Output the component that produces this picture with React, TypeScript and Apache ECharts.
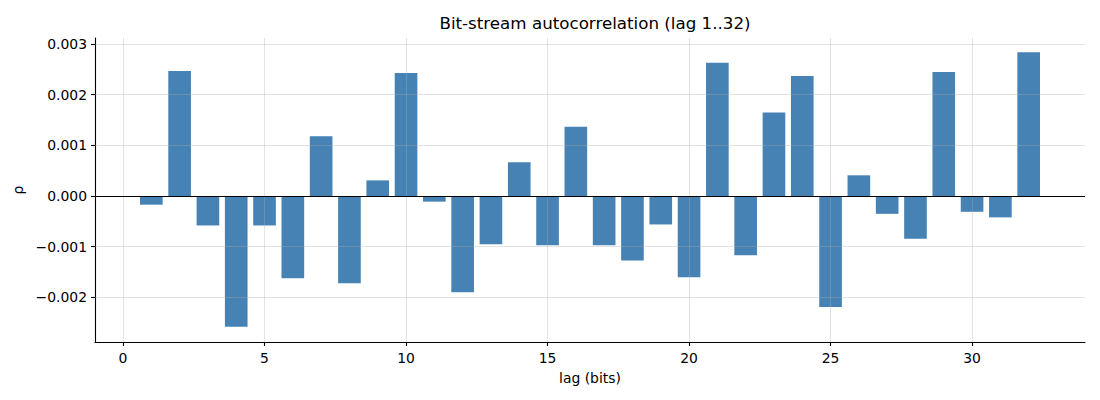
import React, { useEffect, useRef } from "react";
import * as echarts from "echarts";

const lags: number[] = Array.from({ length: 32 }, (_, i) => i + 1);
const rho: number[] = [
  -0.00017, 0.00247, -0.00058, -0.00258, -0.00058, -0.00162, 0.00118, -0.00172,
  0.00031, 0.00243, -0.00011, -0.0019, -0.00095, 0.00067, -0.00097, 0.00137,
  -0.00097, -0.00127, -0.00056, -0.0016, 0.00263, -0.00117, 0.00165, 0.00237,
  -0.00219, 0.00041, -0.00035, -0.00084, 0.00245, -0.00031, -0.00042, 0.00284,
];
const xTicks: number[] = [0, 5, 10, 15, 20, 25, 30];
const yTicks: number[] = [-0.002, -0.001, 0, 0.001, 0.002, 0.003];

const TITLE = "Bit-stream autocorrelation (lag 1..32)";
const X_NAME = "lag (bits)";
const Y_NAME = "ρ";

export default function App() {
  const ref = useRef<HTMLDivElement>(null);
  useEffect(() => {
    document.body.style.margin = "0";
    if (!ref.current) return;
    const chart = echarts.init(ref.current, undefined, { renderer: "svg" });
    const font = "DejaVu Sans";
    const gridLeft = 95;
    const gridRight = 15;
    const plotW = 1100 - gridLeft - gridRight;
    const xMin = -0.99;
    const xMax = 33.99;
    const barW = (plotW / (xMax - xMin)) * 0.8;
    const gridColor = "rgba(176,176,176,0.35)";
    const fmt = (v: number) => {
      const s = Math.abs(v).toFixed(3);
      return v < 0 ? "\u2212" + s : s;
    };
    const gridMark = (key: "xAxis" | "yAxis", vals: number[]) => ({
      type: "line",
      data: [],
      markLine: {
        silent: true,
        symbol: "none",
        precision: 8,
        label: { show: false },
        animation: false,
        lineStyle: { color: gridColor, width: 1, type: "solid" },
        data: vals.map((v) => ({ [key]: v })),
      },
    });
    chart.setOption({
      animation: false,
      title: {
        text: TITLE,
        left: 590,
        top: 9,
        textAlign: "center",
        textStyle: { fontFamily: font, fontSize: 16.7, fontWeight: "normal", color: "#000" },
      },
      grid: { left: gridLeft, right: gridRight, top: 38, bottom: 58, containLabel: false },
      xAxis: {
        type: "value",
        min: xMin,
        max: xMax,
        name: X_NAME,
        nameLocation: "middle",
        nameGap: 29,
        nameTextStyle: { fontFamily: font, fontSize: 13.9, color: "#000" },
        axisLine: { show: true, onZero: false, lineStyle: { color: "#000", width: 1.1 } },
        axisTick: { show: true, inside: false, length: 4, customValues: xTicks, lineStyle: { color: "#000", width: 1.1 } },
        axisLabel: { customValues: xTicks, margin: 9, fontFamily: font, fontSize: 13.9, color: "#000" },
        splitLine: { show: false },
      },
      yAxis: {
        type: "value",
        min: -0.00288,
        max: 0.00312,
        name: Y_NAME,
        nameLocation: "middle",
        nameGap: 67,
        nameRotate: 90,
        nameTextStyle: { fontFamily: font, fontSize: 13.9, color: "#000" },
        axisLine: { show: true, onZero: false, lineStyle: { color: "#000", width: 1.1 } },
        axisTick: { show: true, inside: false, length: 4, customValues: yTicks, lineStyle: { color: "#000", width: 1.1 } },
        axisLabel: { customValues: yTicks, margin: 8, fontFamily: font, fontSize: 13.9, color: "#000", formatter: (v: number) => fmt(v) },
        splitLine: { show: false },
      },
      series: [
        {
          type: "bar",
          data: lags.map((l, i) => [l, rho[i]]),
          barWidth: barW,
          itemStyle: { color: "#4682B4" },
        },
        gridMark("xAxis", xTicks),
        gridMark("yAxis", yTicks.filter((v) => v !== 0)),
        {
          type: "line",
          data: [],
          markLine: {
            silent: true,
            symbol: "none",
            precision: 8,
            label: { show: false },
            animation: false,
            lineStyle: { color: "#000", width: 1, type: "solid" },
            data: [{ yAxis: 0 }],
          },
        },
      ],
    });
    return () => chart.dispose();
  }, []);
  return <div ref={ref} style={{ width: 1100, height: 400 }} />;
}
